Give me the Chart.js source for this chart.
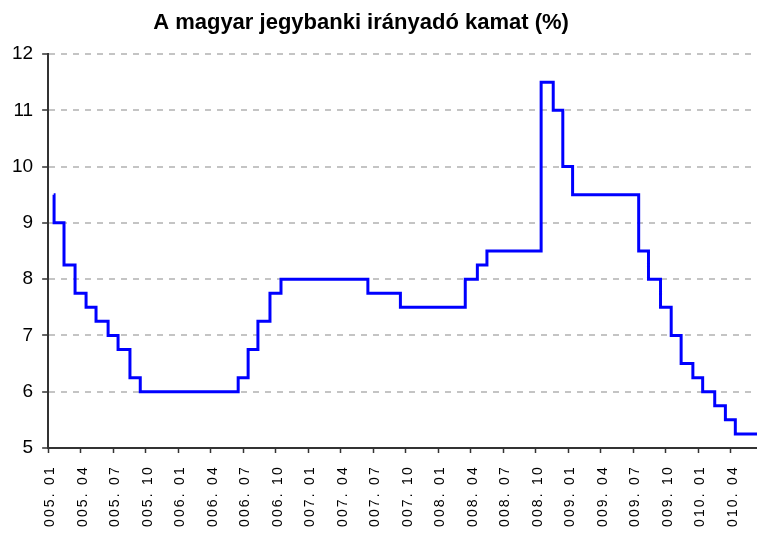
<!DOCTYPE html>
<html>
<head>
<meta charset="utf-8">
<script src="https://cdn.jsdelivr.net/npm/chart.js@4.4.1/dist/chart.umd.min.js"></script>
<style>
  html, body { margin: 0; padding: 0; background: #fff; overflow: hidden; }
  #wrap { position: relative; width: 757px; height: 534px; }
</style>
</head>
<body>
<div id="wrap"><canvas id="c" width="757" height="534"></canvas></div>
<script>
// ---- DATA ----
const chartTitle = 'A magyar jegybanki irányadó kamat (%)';

// dates on which the base rate changed (plus first and last observation)
const changeDates = [
  '2005-01-17','2005-01-18','2005-02-14','2005-03-16','2005-04-16','2005-05-14',
  '2005-06-17','2005-07-15','2005-08-18','2005-09-16',
  '2006-06-17','2006-07-15','2006-08-12','2006-09-15','2006-10-16',
  '2007-06-16','2007-09-16',
  '2008-03-16','2008-04-19','2008-05-16','2008-10-16','2008-11-19','2008-12-16',
  '2009-01-13','2009-07-16','2009-08-13','2009-09-16','2009-10-16','2009-11-13','2009-12-16',
  '2010-01-13','2010-02-15','2010-03-16','2010-04-13','2010-06-13'
];
// rate (%) valid from each date above
const rates = [
  9.5, 9.0, 8.25, 7.75, 7.5, 7.25,
  7.0, 6.75, 6.25, 6.0,
  6.25, 6.75, 7.25, 7.75, 8.0,
  7.75, 7.5,
  8.0, 8.25, 8.5, 11.5, 11.0, 10.0,
  9.5, 8.5, 8.0, 7.5, 7.0, 6.5, 6.25,
  6.0, 5.75, 5.5, 5.25, 5.25
];

// quarterly category labels (as visible on the axis)
const tickLabels = [
  '005. 01','005. 04','005. 07','005. 10',
  '006. 01','006. 04','006. 07','006. 10',
  '007. 01','007. 04','007. 07','007. 10',
  '008. 01','008. 04','008. 07','008. 10',
  '009. 01','009. 04','009. 07','009. 10',
  '010. 01','010. 04'
];
const baseYear = 2005;
const monthsPerTick = 3;

const yMin = 5, yMax = 12, yStep = 1;

// ---- helpers ----
function toMonths(s) {
  const [y, m, d] = s.split('-').map(Number);
  const dim = new Date(y, m, 0).getDate();
  return (y - baseYear) * 12 + (m - 1) + (d - 1) / dim;
}

const points = changeDates.map((d, i) => ({ x: toMonths(d), y: rates[i] }));
const xMax = toMonths(changeDates[changeDates.length - 1]);

const FONT = "'Liberation Sans', Arial, Helvetica, sans-serif";

// plugins: shift title a bit to the left, letter-spacing for x labels
const titleShiftPlugin = {
  id: 'titleShift',
  afterLayout(chart, args, opts) {
    const t = chart.titleBlock;
    if (t) { t.left -= opts.shift; t.right -= opts.shift; }
  }
};
const xLabelSpacing = {
  id: 'xLabelSpacing',
  afterDatasetsDraw(chart, args, opts) {
    if ('letterSpacing' in chart.ctx) chart.ctx.letterSpacing = opts.spacing;
  },
  afterDraw(chart) {
    if ('letterSpacing' in chart.ctx) chart.ctx.letterSpacing = '0px';
  }
};

new Chart(document.getElementById('c'), {
  type: 'line',
  data: {
    datasets: [{
      data: points,
      stepped: 'before',
      borderColor: '#0000FF',
      borderWidth: 3,
      borderJoinStyle: 'miter',
      borderCapStyle: 'butt',
      pointRadius: 0,
      fill: false,
      tension: 0
    }]
  },
  options: {
    responsive: false,
    animation: false,
    events: [],
    devicePixelRatio: 1,
    layout: { padding: { left: 3, right: 0, top: 0, bottom: 0 } },
    plugins: {
      legend: { display: false },
      tooltip: { enabled: false },
      title: {
        display: true,
        text: chartTitle,
        color: '#000',
        font: { family: FONT, size: 22, weight: 'bold' },
        padding: { top: 10, bottom: 17.6 }
      },
      titleShift: { shift: 19 },
      xLabelSpacing: { spacing: '2.2px' }
    },
    scales: {
      x: {
        type: 'linear',
        min: 0,
        max: xMax,
        afterBuildTicks(scale) {
          scale.ticks = tickLabels.map((l, i) => ({ value: i * monthsPerTick }));
        },
        afterFit(scale) {
          scale.height = 86;
          scale.paddingLeft = 0;
          scale.paddingRight = 0;
        },
        ticks: {
          autoSkip: false,
          minRotation: 90,
          maxRotation: 90,
          padding: 12,
          labelOffset: 2,
          color: '#000',
          font: { family: FONT, size: 14 },
          z: 1,
          callback: (v) => tickLabels[Math.round(v / monthsPerTick)]
        },
        grid: {
          display: true,
          drawOnChartArea: false,
          drawTicks: true,
          tickLength: 5,
          tickColor: '#333',
          tickWidth: 1.5
        },
        border: { display: true, color: '#333', width: 2 }
      },
      y: {
        type: 'linear',
        min: yMin,
        max: yMax,
        ticks: {
          stepSize: yStep,
          padding: 9,
          color: '#000',
          font: { family: FONT, size: 19 }
        },
        grid: {
          color: '#C4C4C4',
          lineWidth: 2,
          borderDash: [6, 6],
          drawTicks: true,
          tickLength: 6,
          tickColor: '#333',
          tickWidth: 1.5
        },
        border: { display: true, color: '#333', width: 2, dash: [6, 6] }
      }
    }
  },
  plugins: [titleShiftPlugin, xLabelSpacing]
});
</script>
</body>
</html>
